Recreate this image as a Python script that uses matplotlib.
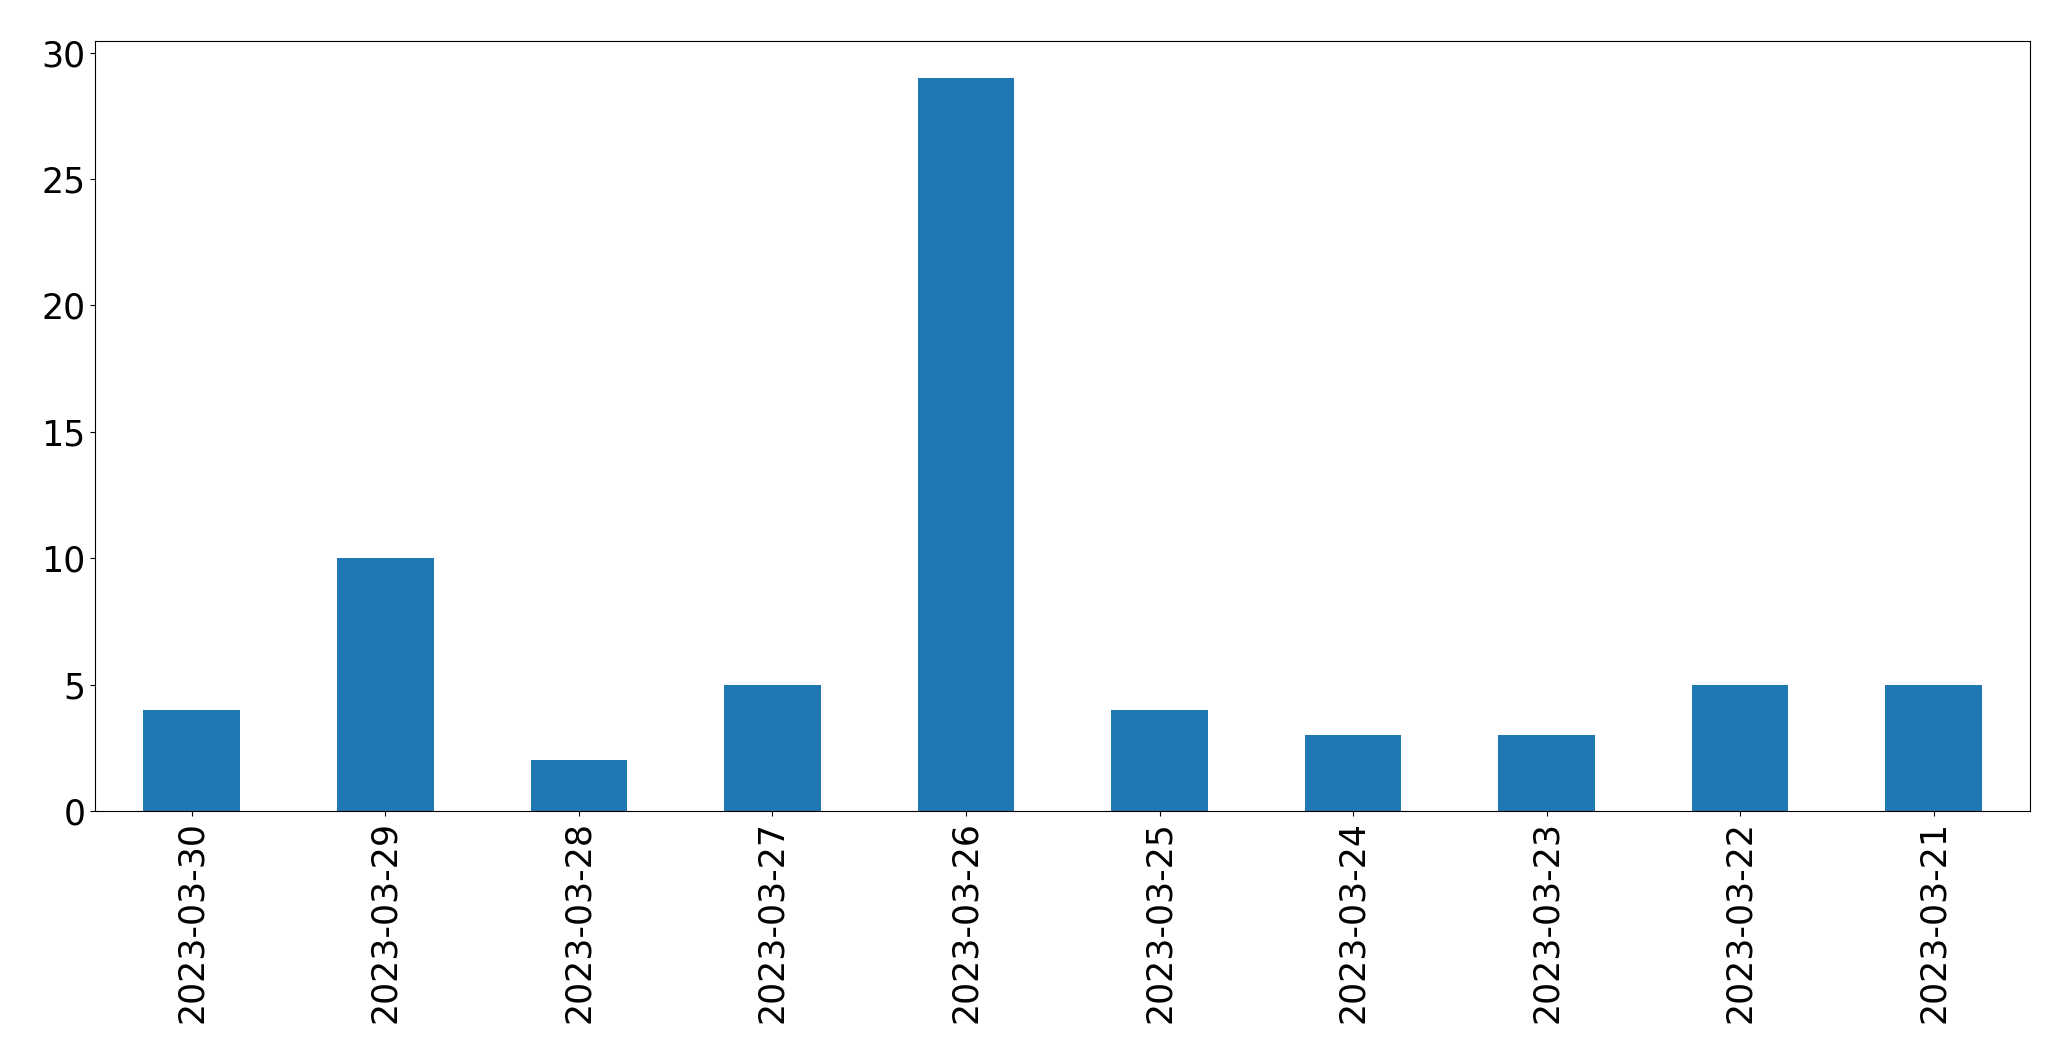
import matplotlib
matplotlib.use("Agg")
import matplotlib.pyplot as plt
import numpy as np

dates = ['2023-03-30', '2023-03-29', '2023-03-28', '2023-03-27', '2023-03-26',
         '2023-03-25', '2023-03-24', '2023-03-23', '2023-03-22', '2023-03-21']
counts = [4, 10, 2, 5, 29, 4, 3, 3, 5, 5]

fig = plt.figure(figsize=(20.71, 10.63), dpi=100)
ax = fig.add_axes([0.0459, 0.2371, 0.9345, 0.724])

x = np.arange(len(dates))
ax.bar(x, counts, width=0.5, color='#1f77b4')
ax.set_xlim(-0.5, len(dates) - 0.5)
ax.set_xticks(x)
ax.set_xticklabels(dates, rotation=90)
ax.tick_params(axis='both', labelsize=25)

plt.savefig('out.png', dpi=100)
plt.close()
